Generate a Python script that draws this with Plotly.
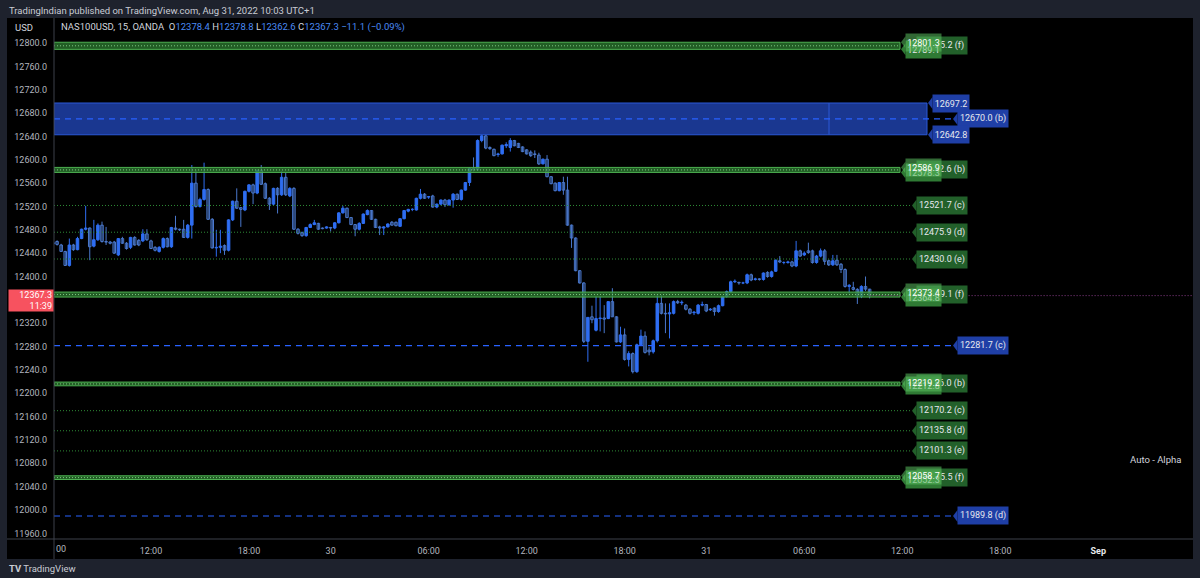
import plotly.graph_objects as go
import pandas as pd

# ---------------- data (NAS100USD, 15 min, OANDA) ----------------
first_bar = "2022-08-29 06:00"
session_break_hour = 22  # daily one-hour break (UTC+1)

opens = [12456, 12460, 12454, 12443, 12419, 12454, 12446, 12465, 12481, 12483,
         12452, 12463, 12488, 12460, 12459, 12459, 12437, 12465, 12457, 12450,
         12467, 12462, 12461, 12473, 12461, 12450, 12443, 12450, 12465, 12451,
         12483, 12481, 12481, 12467, 12488, 12560, 12520, 12532, 12549, 12498,
         12449, 12450, 12453, 12445, 12497, 12529, 12518, 12514, 12546, 12557,
         12543, 12582, 12559, 12534, 12524, 12551, 12540, 12570, 12538, 12551,
         12481, 12475, 12470, 12484, 12489, 12491, 12483, 12483, 12484, 12483,
         12492, 12509, 12517, 12501, 12489, 12481, 12491, 12506, 12513, 12498,
         12485, 12483, 12485, 12493, 12493, 12486, 12499, 12512, 12515, 12514,
         12534, 12541, 12536, 12538, 12519, 12524, 12531, 12523, 12531, 12541,
         12532, 12548, 12561, 12585, 12583, 12633, 12641, 12621, 12618, 12609,
         12610, 12624, 12621, 12633, 12628, 12622, 12617, 12613, 12610, 12608,
         12593, 12601, 12571, 12560, 12547, 12561, 12548, 12488, 12466, 12410,
         12389, 12289, 12331, 12308, 12328, 12329, 12328, 12357, 12331, 12288,
         12300, 12258, 12268, 12237, 12283, 12298, 12274, 12271, 12290, 12354,
         12337, 12336, 12337, 12357, 12355, 12351, 12344, 12338, 12337, 12351,
         12352, 12343, 12346, 12340, 12350, 12366, 12374, 12391, 12390, 12389,
         12389, 12403, 12395, 12396, 12395, 12407, 12400, 12409, 12427, 12424,
         12424, 12425, 12418, 12444, 12437, 12444, 12444, 12424, 12435, 12444,
         12427, 12420, 12428, 12421, 12412, 12383, 12381, 12378, 12366, 12383,
         12378.4]
highs = [12461, 12462, 12456, 12444, 12465, 12456, 12468, 12482, 12521, 12484,
         12497, 12491, 12494, 12485, 12461, 12461, 12466, 12468, 12459, 12468,
         12469, 12464, 12481, 12481, 12463, 12452, 12452, 12467, 12467, 12485,
         12504, 12482, 12497, 12490, 12591, 12582, 12535, 12595, 12551, 12500,
         12480, 12480, 12455, 12498, 12530, 12551, 12519, 12547, 12558, 12559,
         12583, 12591, 12561, 12536, 12552, 12553, 12580, 12578, 12553, 12553,
         12483, 12477, 12485, 12491, 12497, 12492, 12484, 12486, 12485, 12493,
         12510, 12521, 12518, 12502, 12490, 12493, 12508, 12515, 12514, 12499,
         12487, 12486, 12491, 12495, 12494, 12500, 12514, 12516, 12517, 12535,
         12550, 12543, 12538, 12540, 12525, 12532, 12533, 12532, 12543, 12542,
         12549, 12562, 12587, 12604, 12635, 12643, 12643, 12623, 12619, 12612,
         12626, 12630, 12637, 12634, 12629, 12623, 12618, 12616, 12616, 12612,
         12602, 12608, 12572, 12561, 12562, 12571, 12571, 12489, 12467, 12411,
         12390, 12330, 12350, 12366, 12366, 12351, 12357, 12380, 12332, 12314,
         12311, 12272, 12270, 12285, 12309, 12306, 12279, 12292, 12368, 12368,
         12354, 12354, 12359, 12360, 12359, 12353, 12346, 12341, 12353, 12357,
         12353, 12346, 12347, 12352, 12367, 12376, 12393, 12395, 12391, 12391,
         12405, 12405, 12398, 12397, 12407, 12409, 12410, 12429, 12435, 12426,
         12427, 12427, 12461, 12446, 12443, 12458, 12446, 12437, 12448, 12447,
         12429, 12437, 12437, 12423, 12414, 12387, 12391, 12380, 12385, 12400,
         12378.8]
lows = [12452, 12453, 12442, 12418, 12417, 12444, 12445, 12464, 12479, 12428,
        12450, 12461, 12458, 12454, 12455, 12439, 12435, 12456, 12446, 12447,
        12453, 12452, 12459, 12461, 12447, 12443, 12441, 12448, 12450, 12449,
        12479, 12478, 12466, 12465, 12465, 12518, 12518, 12530, 12497, 12448,
        12434, 12440, 12437, 12443, 12495, 12516, 12485, 12512, 12544, 12524,
        12541, 12557, 12533, 12514, 12522, 12508, 12538, 12538, 12536, 12480,
        12472, 12468, 12468, 12483, 12488, 12480, 12481, 12482, 12477, 12481,
        12491, 12508, 12500, 12488, 12469, 12479, 12490, 12505, 12497, 12483,
        12471, 12471, 12484, 12487, 12486, 12485, 12498, 12510, 12512, 12513,
        12532, 12533, 12533, 12518, 12517, 12522, 12519, 12521, 12518, 12531,
        12530, 12547, 12555, 12580, 12581, 12630, 12618, 12617, 12606, 12605,
        12609, 12620, 12614, 12623, 12620, 12613, 12609, 12605, 12603, 12591,
        12592, 12570, 12558, 12546, 12546, 12540, 12487, 12449, 12409, 12388,
        12286, 12254, 12320, 12306, 12306, 12303, 12327, 12331, 12287, 12286,
        12256, 12246, 12234, 12235, 12281, 12268, 12265, 12268, 12287, 12335,
        12303, 12294, 12335, 12353, 12351, 12342, 12335, 12334, 12335, 12349,
        12339, 12341, 12333, 12338, 12349, 12364, 12372, 12389, 12386, 12387,
        12387, 12392, 12393, 12393, 12393, 12398, 12398, 12408, 12423, 12421,
        12422, 12416, 12416, 12434, 12435, 12439, 12422, 12422, 12433, 12420,
        12418, 12418, 12418, 12406, 12381, 12371, 12376, 12353, 12363, 12375,
        12362.6]
closes = [12458, 12455, 12443, 12419, 12454, 12446, 12465, 12481, 12483, 12451,
          12463, 12488, 12460, 12459, 12457, 12440, 12465, 12457, 12448, 12467,
          12454, 12454, 12473, 12463, 12448, 12445, 12450, 12465, 12451, 12484,
          12481, 12480, 12467, 12488, 12560, 12520, 12532, 12549, 12498, 12449,
          12450, 12452, 12445, 12497, 12529, 12517, 12515, 12546, 12557, 12543,
          12582, 12558, 12534, 12524, 12551, 12540, 12570, 12540, 12551, 12481,
          12474, 12470, 12484, 12489, 12492, 12481, 12482, 12485, 12483, 12492,
          12509, 12517, 12501, 12489, 12481, 12491, 12507, 12513, 12498, 12484,
          12483, 12485, 12490, 12488, 12487, 12499, 12513, 12515, 12515, 12534,
          12541, 12534, 12537, 12519, 12524, 12531, 12523, 12531, 12541, 12532,
          12548, 12561, 12585, 12583, 12633, 12641, 12620, 12619, 12607, 12610,
          12625, 12626, 12633, 12624, 12621, 12614, 12610, 12607, 12609, 12593,
          12601, 12571, 12559, 12547, 12561, 12548, 12488, 12466, 12410, 12389,
          12289, 12330, 12326, 12328, 12329, 12327, 12357, 12331, 12288, 12300,
          12258, 12268, 12237, 12283, 12298, 12270, 12271, 12290, 12354, 12337,
          12336, 12338, 12357, 12355, 12356, 12344, 12337, 12339, 12351, 12352,
          12341, 12344, 12340, 12350, 12366, 12374, 12391, 12392, 12389, 12389,
          12403, 12394, 12396, 12395, 12406, 12400, 12408, 12428, 12425, 12424,
          12425, 12418, 12444, 12435, 12440, 12441, 12424, 12435, 12444, 12426,
          12420, 12427, 12420, 12412, 12383, 12385, 12378, 12368, 12383, 12378.4,
          12367.3]

# drawn levels
green_pairs = [(12801.3, 12789.1, "f"), (12586.9, 12578.3, "b"), (12373.4, 12364.8, "f"),
               (12219.2, 12212.8, "b"), (12058.7, 12052.3, "f")]
green_dotted = [(12521.7, "c"), (12475.9, "d"), (12430.0, "e"),
                (12170.2, "c"), (12135.8, "d"), (12101.3, "e")]
blue_dashed = [(12670.0, "b"), (12281.7, "c"), (11989.8, "d")]
blue_zone = (12697.2, 12642.8)

tick_times = ["2022-08-29 12:00", "2022-08-29 18:00", "2022-08-30 00:00", "2022-08-30 06:00",
              "2022-08-30 12:00", "2022-08-30 18:00", "2022-08-31 00:00", "2022-08-31 06:00",
              "2022-08-31 12:00", "2022-08-31 18:00", "2022-09-01 00:00"]
tick_text = ["12:00", "18:00", "30", "06:00", "12:00", "18:00", "31", "06:00", "12:00", "18:00",
             "<b style='color:#e8eaed'>Sep</b>"]
price_ticks = list(range(11960, 12801, 40))

# ---------------- layout geometry ----------------
W, H = 1200, 578
ML, MR, MT, MB = 54, 7, 20, 39
PW, PH = W - ML - MR, H - MT - MB
BAR_PX = 4.083          # pixels per bar
PRICE_PX = 0.5838       # pixels per price unit
X_LEFT = (ML - 53) / BAR_PX
X_RANGE = [X_LEFT, X_LEFT + PW / BAR_PX]
Y_TOP = 12800 + (43 - MT) / PRICE_PX
Y_RANGE = [Y_TOP - PH / PRICE_PX, Y_TOP]


def px(xp):
    return (xp - ML) / PW


def py(yp):
    return (H - MB - yp) / PH


def ix(xp):
    return X_RANGE[0] + (xp - ML) / BAR_PX


# ---------------- time index (session break skipped) ----------------
n = len(opens)
times = []
t = pd.Timestamp(first_bar)
while len(times) < n:
    if t.hour != session_break_hour:
        times.append(t)
    t += pd.Timedelta(minutes=15)
while len(times) < 320:
    times.append(t)
    t += pd.Timedelta(minutes=15)
pos = {tt: k for k, tt in enumerate(times)}
tick_vals = [pos[pd.Timestamp(s)] for s in tick_times]

UP = "#2f6ef2"
DOWN = "#4a78cc"
FONT = "Roboto, Arial, sans-serif"
TXT = "#d1d4dc"
FS = 9

fig = go.Figure()

# candles: wicks + bodies (up = filled, down = hollow)
for is_up, col in ((True, UP), (False, DOWN)):
    ids = [i for i in range(n) if (closes[i] >= opens[i]) == is_up]
    wx, wy = [], []
    for i in ids:
        wx += [i, i, None]
        wy += [lows[i], highs[i], None]
    fig.add_trace(go.Scatter(x=wx, y=wy, mode="lines", line=dict(color=col, width=1),
                             hoverinfo="skip", showlegend=False))
    fig.add_trace(go.Bar(
        x=ids, base=[min(opens[i], closes[i]) for i in ids],
        y=[abs(closes[i] - opens[i]) for i in ids], width=0.62,
        marker=dict(color=col if is_up else "#000000", line=dict(color=col, width=1)),
        hoverinfo="skip", showlegend=False))

shapes = []
annotations = []

# background frame
shapes.append(dict(type="rect", xref="paper", yref="paper", x0=px(7), x1=px(1193), y0=py(559), y1=py(18),
                   fillcolor="#000000", line=dict(width=0), layer="below"))

# blue zone
zt, zb = blue_zone
shapes.append(dict(type="rect", xref="x", yref="y", x0=X_RANGE[0], x1=ix(927), y0=zb, y1=zt,
                   fillcolor="rgba(33,69,180,0.80)", line=dict(color="#2a58d6", width=1), layer="above"))
shapes.append(dict(type="line", xref="x", yref="y", x0=ix(829), x1=ix(829), y0=zb, y1=zt,
                   line=dict(color="#2a58d6", width=1), layer="above"))

# green bands
for a, b, _ in green_pairs:
    shapes.append(dict(type="rect", xref="x", yref="y", x0=X_RANGE[0], x1=ix(900), y0=b, y1=a,
                       fillcolor="rgba(46,125,50,0.75)", line=dict(color="#4caf50", width=1), layer="above"))
    shapes.append(dict(type="line", xref="x", yref="y", x0=X_RANGE[0], x1=ix(900), y0=(a + b) / 2, y1=(a + b) / 2,
                       line=dict(color="#81c784", width=1, dash="1px,2px"), layer="above"))

# green dotted
for v, _ in green_dotted:
    shapes.append(dict(type="line", xref="x", yref="y", x0=X_RANGE[0], x1=ix(911), y0=v, y1=v,
                       line=dict(color="#2e8b36", width=1, dash="1px,2px"), layer="above"))

# blue dashed
for v, _ in blue_dashed:
    shapes.append(dict(type="line", xref="x", yref="y", x0=X_RANGE[0], x1=ix(953), y0=v, y1=v,
                       line=dict(color="#2962ff", width=1.2, dash="6px,5px"), layer="above"))

# current price line
last = closes[-1]
shapes.append(dict(type="line", xref="x", yref="y", x0=n - 1, x1=X_RANGE[1], y0=last, y1=last,
                   line=dict(color="#8a3d8a", width=1, dash="1px,2px"), layer="above"))


def tag(level, text, left_px, width, bg, fcolor="#e6e8ee", notch=True):
    if notch:
        shapes.append(dict(type="path", xref="x", yref="y",
                           path=f"M {ix(left_px - 4)},{level} L {ix(left_px + 0.5)},{level + 6 / PRICE_PX} "
                                f"L {ix(left_px + 0.5)},{level - 6 / PRICE_PX} Z",
                           fillcolor=bg, line=dict(width=0), layer="above"))
    annotations.append(dict(x=ix(left_px), y=level, xref="x", yref="y", xanchor="left", yanchor="middle",
                            text=text, showarrow=False, bgcolor=bg, width=width, height=15, borderpad=1,
                            align="center", font=dict(size=FS, color=fcolor, family=FONT)))


G_DARK = "#22602a"
G_MID = "#2f7a34"
G_BRIGHT = "rgba(90,190,95,0.55)"
B_LBL = "#1f3fa6"

for a, b, letter in green_pairs:
    mid = (a + b) / 2
    tag(mid, f"{mid:.1f} ({letter})", 916, 48, G_DARK)
    tag(b, f"{b:.1f}", 905, 33, G_MID)
    tag(a, f"{a:.1f}", 905, 33, G_BRIGHT, fcolor="#ffffff")

for v, letter in green_dotted:
    tag(v, f"{v:.1f} ({letter})", 916, 48, G_DARK)

for v, letter in blue_dashed:
    tag(v, f"{v:.1f} ({letter})", 957, 48, B_LBL)

tag(zt, f"{zt:.1f}", 932, 34, B_LBL)
tag(zb, f"{zb:.1f}", 932, 34, B_LBL)

# price scale label for last price
annotations.append(dict(x=px(8), y=last, xref="paper", yref="y", xanchor="left", yanchor="top", yshift=7,
                        text=f"{last:.1f}<br>11:39", showarrow=False, bgcolor="#f7525f", width=42, height=19,
                        borderpad=1, align="right", font=dict(size=FS, color="#ffffff", family=FONT)))

# frame lines
shapes.append(dict(type="line", xref="paper", yref="paper", x0=0, x1=0, y0=py(559), y1=py(18),
                   line=dict(color="#3d404a", width=1), layer="above"))
shapes.append(dict(type="line", xref="paper", yref="paper", x0=px(7), x1=px(1193), y0=0, y1=0,
                   line=dict(color="#3d404a", width=1), layer="above"))


def text_at(x, y, s, size=FS, color=TXT, anchor="left"):
    annotations.append(dict(x=px(x), y=py(y), xref="paper", yref="paper", xanchor=anchor, yanchor="middle",
                            text=s, showarrow=False, font=dict(size=size, color=color, family=FONT)))


BLUE_T = "#4a8af4"
o, h, l, c = opens[-1], highs[-1], lows[-1], closes[-1]
chg = c - closes[-2]
pct = chg / closes[-2] * 100
hdr = (f"NAS100USD, 15, OANDA  O<span style='color:{BLUE_T}'>{o:.1f}</span> "
       f"H<span style='color:{BLUE_T}'>{h:.1f}</span> L<span style='color:{BLUE_T}'>{l:.1f}</span> "
       f"C<span style='color:{BLUE_T}'>{c:.1f}</span> "
       f"<span style='color:{BLUE_T}'>{chg:+.1f} ({pct:+.2f}%)</span>").replace("-", "\u2212")
text_at(59, 27, hdr, size=9.5)
text_at(13, 27, "USD", size=9.5)
text_at(7, 10, "TradingIndian published on TradingView.com, Aug 31, 2022 10:03 UTC+1", size=9.5, color="#c9ccd4")
text_at(7, 568, "<b>TV</b> TradingView", size=9.5, color="#c9ccd4")
text_at(1183, 459, "Auto - Alpha", size=9.5, anchor="right")
text_at(54, 549, "00", size=FS, color="#b2b5be")

fig.update_layout(
    width=W, height=H, margin=dict(l=ML, r=MR, t=MT, b=MB),
    paper_bgcolor="#1e222d", plot_bgcolor="#000000",
    showlegend=False, hovermode=False, barmode="overlay",
    font=dict(family=FONT, size=FS, color="#b2b5be"),
    shapes=shapes, annotations=annotations,
    xaxis=dict(range=X_RANGE, tickmode="array", tickvals=tick_vals, ticktext=tick_text,
               showgrid=False, zeroline=False, showline=False, ticks="",
               tickfont=dict(size=FS, color="#b2b5be"), ticklabelstandoff=5, fixedrange=True),
    yaxis=dict(range=Y_RANGE, side="left", tickmode="array", tickvals=price_ticks,
               ticktext=[f"{v:.1f}" for v in price_ticks], showgrid=False, zeroline=False, showline=False,
               ticks="", tickfont=dict(size=FS, color="#b2b5be"), ticklabelstandoff=6, fixedrange=True),
)

fig.write_html("out.html", config={"displayModeBar": False},
               post_script="document.body.style.margin='0px';document.body.style.overflow='hidden';")
